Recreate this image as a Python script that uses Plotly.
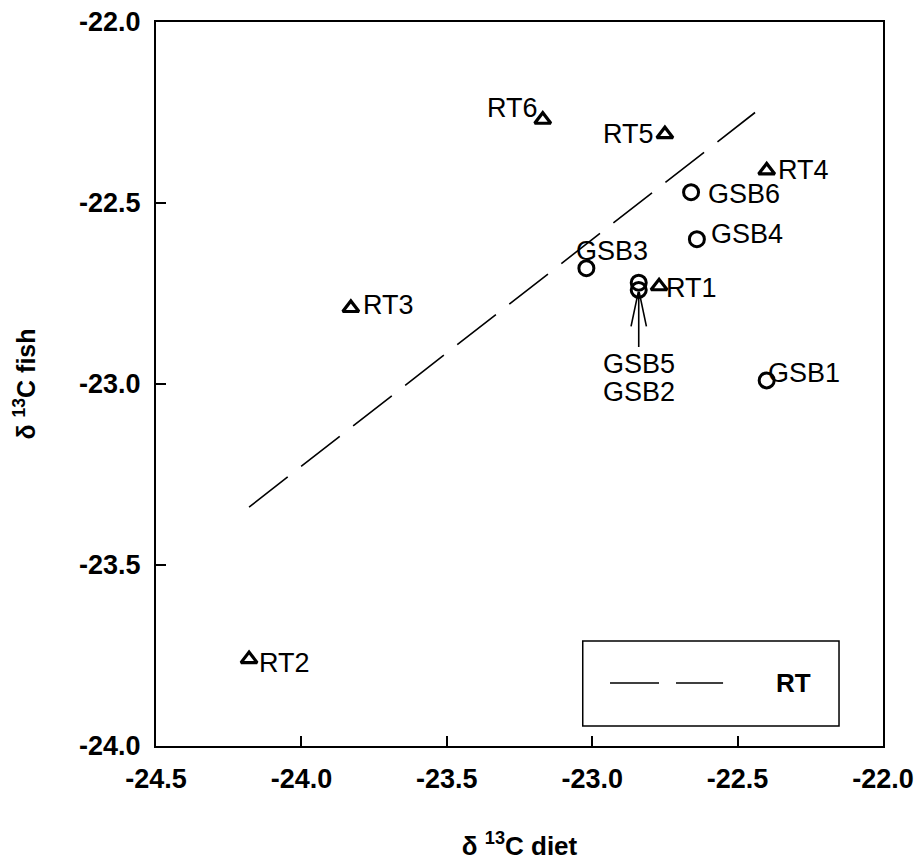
import plotly.graph_objects as go

# Carbon isotope values (per mil): diet vs fish tissue
rt_labels = ["RT1", "RT2", "RT3", "RT4", "RT5", "RT6"]
rt_diet = [-22.77, -24.18, -23.83, -22.40, -22.75, -23.17]
rt_fish = [-22.73, -23.76, -22.79, -22.41, -22.31, -22.27]

gsb_labels = ["GSB1", "GSB2", "GSB3", "GSB4", "GSB5", "GSB6"]
gsb_diet = [-22.40, -22.84, -23.02, -22.64, -22.84, -22.66]
gsb_fish = [-22.99, -22.74, -22.68, -22.60, -22.72, -22.47]

# RT regression line end points
rt_fit_diet = [-24.18, -22.44]
rt_fit_fish = [-23.34, -22.25]

x_ticks = [-24.5, -24.0, -23.5, -23.0, -22.5, -22.0]
y_ticks = [-24.0, -23.5, -23.0, -22.5, -22.0]

FONT = "Liberation Sans, Arial, sans-serif"
LABEL_SIZE = 27
DASH = "49px,17px"

fig = go.Figure()

fig.add_trace(go.Scatter(
    x=rt_fit_diet, y=rt_fit_fish, mode="lines", name="RT",
    line=dict(color="black", width=1.6, dash=DASH),
    showlegend=False,
))
fig.add_trace(go.Scatter(
    x=rt_diet, y=rt_fish, mode="markers", showlegend=False,
    marker=dict(symbol="triangle-up-open", size=14, color="black",
                line=dict(width=3.2, color="black")),
))
fig.add_trace(go.Scatter(
    x=gsb_diet, y=gsb_fish, mode="markers", showlegend=False,
    marker=dict(symbol="circle-open", size=15, color="black",
                line=dict(width=3, color="black")),
))

# label offsets (pixels, y downward) and anchors for each point
rt_place = {
    "RT1": (5, 2, "left", "middle"),
    "RT2": (8, 4, "left", "middle"),
    "RT3": (10, -3, "left", "middle"),
    "RT4": (9, 0, "left", "middle"),
    "RT5": (-9, 0, "right", "middle"),
    "RT6": (-3, -12, "right", "middle"),
}
gsb_place = {
    "GSB1": (-1, -7, "left", "middle"),
    "GSB3": (-12, -17, "left", "middle"),
    "GSB4": (12, -5, "left", "middle"),
    "GSB6": (15, 2, "left", "middle"),
}

txt_font = dict(size=LABEL_SIZE, color="black", family=FONT)
annotations = []
for lab, x, y in zip(rt_labels, rt_diet, rt_fish):
    dx, dy, xa, ya = rt_place[lab]
    annotations.append(dict(x=x, y=y, text=lab, showarrow=False,
                            xshift=dx, yshift=-dy, xanchor=xa, yanchor=ya,
                            font=txt_font))
for lab, x, y in zip(gsb_labels, gsb_diet, gsb_fish):
    if lab not in gsb_place:
        continue
    dx, dy, xa, ya = gsb_place[lab]
    annotations.append(dict(x=x, y=y, text=lab, showarrow=False,
                            xshift=dx, yshift=-dy, xanchor=xa, yanchor=ya,
                            font=txt_font))

# GSB5 and GSB2 overlap: labels stacked below with an open arrow pointing up
px, py = gsb_diet[4], gsb_fish[1]
annotations.append(dict(
    x=px, y=py, text="GSB5", showarrow=True,
    ax=0, ay=57, axref="pixel", ayref="pixel",
    arrowhead=0, arrowwidth=1.6, arrowcolor="black",
    standoff=2, yanchor="top", font=txt_font,
))
annotations.append(dict(
    x=px, y=py, text="GSB2", showarrow=False,
    yshift=-102, yanchor="middle", font=txt_font,
))
for side in (-8, 8):
    annotations.append(dict(
        x=px, y=py, text="", showarrow=True,
        ax=side, ay=38, axref="pixel", ayref="pixel",
        arrowhead=0, arrowwidth=1.6, arrowcolor="black", standoff=2,
    ))

# legend box drawn in the lower right corner of the plot area
leg_x0, leg_x1, leg_y0, leg_y1 = 0.587, 0.9395, 0.0276, 0.145
leg_line_x0, leg_line_x1, leg_line_y = 0.6245, 0.780, 0.087
shapes = [
    dict(type="rect", xref="paper", yref="paper",
         x0=leg_x0, x1=leg_x1, y0=leg_y0, y1=leg_y1,
         line=dict(color="black", width=1.5), fillcolor="white", layer="above"),
    dict(type="line", xref="paper", yref="paper",
         x0=leg_line_x0, x1=leg_line_x1, y0=leg_line_y, y1=leg_line_y,
         line=dict(color="black", width=1.6, dash=DASH), layer="above"),
]
annotations.append(dict(
    xref="paper", yref="paper", x=0.877, y=leg_line_y, text="<b>RT</b>",
    showarrow=False, xanchor="center", yanchor="middle",
    font=dict(size=26, color="black", family=FONT),
))

fig.update_layout(
    width=919, height=861,
    margin=dict(l=156, r=36, t=22, b=115),
    paper_bgcolor="white", plot_bgcolor="white",
    annotations=annotations, shapes=shapes,
    font=dict(family=FONT, color="black"),
    showlegend=False,
    xaxis=dict(
        range=[-24.5, -22.0], tickvals=x_ticks,
        ticktext=[f"{v:.1f}" for v in x_ticks],
        showgrid=False, zeroline=False, automargin=False,
        showline=True, linecolor="black", linewidth=2, mirror=True,
        ticks="inside", ticklen=10, tickwidth=1.5, tickcolor="black",
        ticklabelstandoff=8,
        tickfont=dict(size=27, family=FONT, weight="bold"),
        title=dict(text="δ <sup>13</sup>C diet", standoff=46,
                   font=dict(size=26, family=FONT, weight="bold")),
    ),
    yaxis=dict(
        range=[-24.0, -22.0], tickvals=y_ticks,
        ticktext=[f"{v:.1f}" for v in y_ticks],
        showgrid=False, zeroline=False, automargin=False,
        showline=True, linecolor="black", linewidth=2, mirror=True,
        ticks="inside", ticklen=10, tickwidth=1.5, tickcolor="black",
        ticklabelstandoff=8,
        tickfont=dict(size=27, family=FONT, weight="bold"),
        title=dict(text="δ <sup>13</sup>C fish", standoff=36,
                   font=dict(size=25, family=FONT, weight="bold")),
    ),
)

fig.write_html("out.html")
